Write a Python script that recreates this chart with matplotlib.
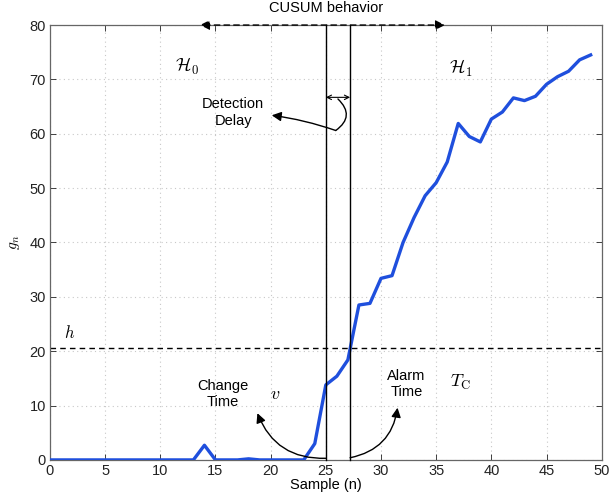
import matplotlib
matplotlib.use("Agg")
import matplotlib.pyplot as plt
import numpy as np

plt.rcParams['font.family'] = ['Liberation Sans', 'DejaVu Sans']
plt.rcParams['mathtext.fontset'] = 'cm'

samples = list(range(50))
g_n = [0, 0, 0, 0, 0, 0, 0, 0, 0, 0,
       0, 0, 0, 0, 2.7, 0, 0, 0, 0.2, 0,
       0, 0, 0, 0, 3.0, 13.8, 15.4, 18.4, 28.5, 28.8,
       33.4, 33.9, 40.0, 44.6, 48.6, 51.0, 54.8, 61.9, 59.5, 58.5,
       62.7, 64.0, 66.6, 66.1, 66.9, 69.1, 70.5, 71.5, 73.6, 74.5]
threshold_h = 20.5
change_time = 25
alarm_time = 27.2
xticks = list(range(0, 51, 5))
yticks = list(range(0, 81, 10))

fig = plt.figure(figsize=(6.09, 5.01), dpi=100)
ax = fig.add_axes([0.082, 0.082, 0.906, 0.868])
ax.plot(samples, g_n, color='#1f4fdd', lw=2.4, zorder=3)
ax.set_xlim(0, 50)
ax.set_ylim(0, 80)
ax.set_xticks(xticks)
ax.set_yticks(yticks)
ax.tick_params(direction='in', top=True, right=True, labelsize=10.5, length=4, width=0.6, pad=3,
               colors='#222222')
for s in ax.spines.values():
    s.set_color('#666666')
    s.set_linewidth(0.9)
ax.grid(True, linestyle=(0, (1, 3)), color='#c8c8c8', lw=0.8)
ax.set_xlabel('Sample (n)', fontsize=10.5, labelpad=0)
ax.set_ylabel(r'$g_n$', fontsize=11, labelpad=5)

# threshold
ax.axhline(threshold_h, color='black', lw=1.0, ls=(0, (4, 3)), zorder=2)
ax.text(1.8, 23.5, r'$h$', fontsize=12, ha='center', va='center')

# vertical lines
ax.plot([change_time, change_time], [0, 80], color='black', lw=1.0, zorder=4, clip_on=False)
ax.plot([alarm_time, alarm_time], [0, 80], color='black', lw=1.0, zorder=4, clip_on=False)

# CUSUM behavior arrow
ax.annotate('', xy=(13.6, 80), xytext=(35.8, 80),
            arrowprops=dict(arrowstyle='<|-|>', color='black', lw=1.0, ls=(0, (4, 3)),
                            mutation_scale=14, shrinkA=0, shrinkB=0),
            annotation_clip=False)
ax.text(25.0, 83.1, 'CUSUM behavior', fontsize=10.5, ha='center', va='center', clip_on=False)

ax.text(12.4, 72.3, r'$\mathcal{H}_0$', fontsize=13, ha='center', va='center')
ax.text(37.2, 72.0, r'$\mathcal{H}_1$', fontsize=13, ha='center', va='center')

# detection delay
ax.annotate('', xy=(25, 66.7), xytext=(alarm_time, 66.7),
            arrowprops=dict(arrowstyle='<->', color='black', lw=0.8, mutation_scale=8,
                            shrinkA=0, shrinkB=0))
ax.annotate('', xy=(25.9, 60.6), xytext=(26.1, 66.4),
            arrowprops=dict(arrowstyle='-', color='black', lw=1.0,
                            connectionstyle='arc3,rad=-0.6', shrinkA=0, shrinkB=0))
ax.annotate('', xy=(20.1, 63.4), xytext=(25.9, 60.6),
            arrowprops=dict(arrowstyle='-|>', color='black', lw=1.0, mutation_scale=14,
                            connectionstyle='arc3,rad=0.05', shrinkA=0, shrinkB=0))
ax.text(16.6, 63.9, 'Detection\nDelay', fontsize=10.5, ha='center', va='center', linespacing=1.2)

# change time
ax.text(15.7, 12.2, 'Change\nTime', fontsize=10.5, ha='center', va='center', linespacing=1.2)
ax.text(20.4, 12.0, r'$v$', fontsize=13, ha='center', va='center')
ax.annotate('', xy=(18.8, 8.6), xytext=(25.0, 0.3),
            arrowprops=dict(arrowstyle='-|>', color='black', lw=1.0, mutation_scale=14,
                            connectionstyle='arc3,rad=-0.35', shrinkA=0, shrinkB=0))

# alarm time
ax.text(32.3, 13.9, 'Alarm\nTime', fontsize=10.5, ha='center', va='center', linespacing=1.2)
ax.text(37.2, 14.3, r'$T_\mathrm{C}$', fontsize=13, ha='center', va='center')
ax.annotate('', xy=(31.5, 9.6), xytext=(alarm_time, 0.4),
            arrowprops=dict(arrowstyle='-|>', color='black', lw=1.0, mutation_scale=14,
                            connectionstyle='arc3,rad=0.35', shrinkA=0, shrinkB=0))

fig.savefig('out.png', dpi=100)
